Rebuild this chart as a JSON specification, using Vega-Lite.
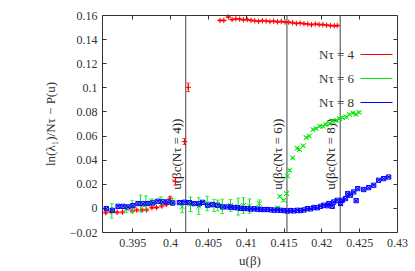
{
  "$schema": "https://vega.github.io/schema/vega-lite/v6.json",
  "width": 295,
  "height": 217,
  "autosize": {"type": "none"},
  "padding": {"left": 102, "top": 15, "right": 18, "bottom": 39},
  "background": "white",
  "config": {
    "font": "Liberation Serif",
    "view": {"stroke": "#333", "strokeWidth": 1},
    "text": {"font": "Liberation Serif"},
    "axis": {"domain": false, "grid": false, "labelFont": "Liberation Serif", "labelFontSize": 12, "labelColor": "#333", "tickColor": "#333", "tickSize": -4, "titleFont": "Liberation Serif", "titleFontWeight": "normal", "titleFontSize": 13, "titleColor": "#333"},
    "legend": {"labelFont": "Liberation Serif"}
  },
  "datasets": {
    "vlines": [
      {"u": 0.40207, "lab": "u(βc(Nτ = 4))"},
      {"u": 0.41545, "lab": "u(βc(Nτ = 6))"},
      {"u": 0.42249, "lab": "u(βc(Nτ = 8))"}
    ],
    "pts": [
      {"s": "Nτ = 4", "u": 0.3915, "y": -0.0040, "err": 0.0008},
      {"s": "Nτ = 4", "u": 0.3922, "y": -0.0032, "err": 0.0008},
      {"s": "Nτ = 4", "u": 0.3930, "y": -0.0036, "err": 0.0008},
      {"s": "Nτ = 4", "u": 0.3937, "y": -0.0035, "err": 0.0008},
      {"s": "Nτ = 4", "u": 0.3950, "y": -0.0025, "err": 0.0008},
      {"s": "Nτ = 4", "u": 0.3956, "y": -0.0018, "err": 0.0008},
      {"s": "Nτ = 4", "u": 0.3963, "y": -0.0018, "err": 0.0008},
      {"s": "Nτ = 4", "u": 0.3969, "y": -0.0017, "err": 0.0008},
      {"s": "Nτ = 4", "u": 0.3976, "y": 0.0002, "err": 0.0008},
      {"s": "Nτ = 4", "u": 0.3982, "y": 0.0003, "err": 0.0008},
      {"s": "Nτ = 4", "u": 0.3989, "y": 0.0015, "err": 0.0008},
      {"s": "Nτ = 4", "u": 0.3995, "y": 0.0028, "err": 0.0010},
      {"s": "Nτ = 4", "u": 0.4000, "y": 0.0080, "err": 0.0015},
      {"s": "Nτ = 4", "u": 0.4007, "y": 0.0220, "err": 0.0030},
      {"s": "Nτ = 4", "u": 0.4019, "y": 0.0550, "err": 0.0025},
      {"s": "Nτ = 4", "u": 0.4024, "y": 0.1000, "err": 0.0035},
      {"s": "Nτ = 4", "u": 0.4066, "y": 0.1555, "err": 0.0005},
      {"s": "Nτ = 4", "u": 0.4071, "y": 0.1555, "err": 0.0005},
      {"s": "Nτ = 4", "u": 0.4077, "y": 0.1583, "err": 0.0005},
      {"s": "Nτ = 4", "u": 0.4082, "y": 0.1562, "err": 0.0005},
      {"s": "Nτ = 4", "u": 0.4087, "y": 0.1568, "err": 0.0005},
      {"s": "Nτ = 4", "u": 0.4092, "y": 0.1566, "err": 0.0005},
      {"s": "Nτ = 4", "u": 0.4097, "y": 0.1560, "err": 0.0005},
      {"s": "Nτ = 4", "u": 0.4102, "y": 0.1562, "err": 0.0005},
      {"s": "Nτ = 4", "u": 0.4107, "y": 0.1556, "err": 0.0005},
      {"s": "Nτ = 4", "u": 0.4112, "y": 0.1552, "err": 0.0005},
      {"s": "Nτ = 4", "u": 0.4117, "y": 0.1548, "err": 0.0005},
      {"s": "Nτ = 4", "u": 0.4122, "y": 0.1553, "err": 0.0005},
      {"s": "Nτ = 4", "u": 0.4127, "y": 0.1550, "err": 0.0005},
      {"s": "Nτ = 4", "u": 0.4132, "y": 0.1546, "err": 0.0005},
      {"s": "Nτ = 4", "u": 0.4137, "y": 0.1549, "err": 0.0005},
      {"s": "Nτ = 4", "u": 0.4142, "y": 0.1543, "err": 0.0005},
      {"s": "Nτ = 4", "u": 0.4147, "y": 0.1546, "err": 0.0005},
      {"s": "Nτ = 4", "u": 0.4152, "y": 0.1541, "err": 0.0005},
      {"s": "Nτ = 4", "u": 0.4157, "y": 0.1540, "err": 0.0005},
      {"s": "Nτ = 4", "u": 0.4162, "y": 0.1536, "err": 0.0005},
      {"s": "Nτ = 4", "u": 0.4167, "y": 0.1530, "err": 0.0005},
      {"s": "Nτ = 4", "u": 0.4172, "y": 0.1533, "err": 0.0005},
      {"s": "Nτ = 4", "u": 0.4177, "y": 0.1528, "err": 0.0005},
      {"s": "Nτ = 4", "u": 0.4182, "y": 0.1525, "err": 0.0005},
      {"s": "Nτ = 4", "u": 0.4187, "y": 0.1519, "err": 0.0005},
      {"s": "Nτ = 4", "u": 0.4192, "y": 0.1525, "err": 0.0005},
      {"s": "Nτ = 4", "u": 0.4197, "y": 0.1521, "err": 0.0005},
      {"s": "Nτ = 4", "u": 0.4202, "y": 0.1520, "err": 0.0005},
      {"s": "Nτ = 4", "u": 0.4207, "y": 0.1516, "err": 0.0005},
      {"s": "Nτ = 4", "u": 0.4212, "y": 0.1512, "err": 0.0005},
      {"s": "Nτ = 4", "u": 0.4217, "y": 0.1510, "err": 0.0005},
      {"s": "Nτ = 4", "u": 0.4221, "y": 0.1512, "err": 0.0005},

      {"s": "Nτ = 6", "u": 0.3923, "y": -0.0025, "err": 0.0060},
      {"s": "Nτ = 6", "u": 0.3942, "y": -0.0008, "err": 0.0030},
      {"s": "Nτ = 6", "u": 0.3950, "y": 0.0010, "err": 0.0050},
      {"s": "Nτ = 6", "u": 0.3961, "y": 0.0036, "err": 0.0070},
      {"s": "Nτ = 6", "u": 0.3968, "y": 0.0040, "err": 0.0060},
      {"s": "Nτ = 6", "u": 0.3976, "y": 0.0050, "err": 0.0025},
      {"s": "Nτ = 6", "u": 0.3988, "y": 0.0056, "err": 0.0035},
      {"s": "Nτ = 6", "u": 0.4003, "y": 0.0050, "err": 0.0030},
      {"s": "Nτ = 6", "u": 0.4016, "y": 0.0010, "err": 0.0050},
      {"s": "Nτ = 6", "u": 0.4027, "y": 0.0030, "err": 0.0060},
      {"s": "Nτ = 6", "u": 0.4038, "y": 0.0015, "err": 0.0070},
      {"s": "Nτ = 6", "u": 0.4049, "y": 0.0036, "err": 0.0060},
      {"s": "Nτ = 6", "u": 0.4058, "y": 0.0020, "err": 0.0050},
      {"s": "Nτ = 6", "u": 0.4063, "y": 0.0020, "err": 0.0045},
      {"s": "Nτ = 6", "u": 0.4069, "y": 0.0012, "err": 0.0060},
      {"s": "Nτ = 6", "u": 0.4080, "y": 0.0020, "err": 0.0050},
      {"s": "Nτ = 6", "u": 0.4090, "y": 0.0010, "err": 0.0070},
      {"s": "Nτ = 6", "u": 0.4097, "y": 0.0020, "err": 0.0065},
      {"s": "Nτ = 6", "u": 0.4105, "y": 0.0015, "err": 0.0060},
      {"s": "Nτ = 6", "u": 0.4118, "y": 0.0036, "err": 0.0030},
      {"s": "Nτ = 6", "u": 0.4142, "y": 0.0000, "err": 0.0010},
      {"s": "Nτ = 6", "u": 0.4145, "y": 0.0096, "err": 0.0008},
      {"s": "Nτ = 6", "u": 0.4150, "y": 0.0063, "err": 0.0008},
      {"s": "Nτ = 6", "u": 0.4154, "y": 0.0119, "err": 0.0008},
      {"s": "Nτ = 6", "u": 0.4155, "y": 0.0265, "err": 0.0008},
      {"s": "Nτ = 6", "u": 0.4158, "y": 0.0312, "err": 0.0008},
      {"s": "Nτ = 6", "u": 0.4162, "y": 0.0415, "err": 0.0008},
      {"s": "Nτ = 6", "u": 0.4168, "y": 0.0495, "err": 0.0008},
      {"s": "Nτ = 6", "u": 0.4171, "y": 0.0484, "err": 0.0008},
      {"s": "Nτ = 6", "u": 0.4176, "y": 0.0515, "err": 0.0008},
      {"s": "Nτ = 6", "u": 0.4180, "y": 0.0583, "err": 0.0008},
      {"s": "Nτ = 6", "u": 0.4184, "y": 0.0596, "err": 0.0008},
      {"s": "Nτ = 6", "u": 0.4189, "y": 0.0649, "err": 0.0008},
      {"s": "Nτ = 6", "u": 0.4193, "y": 0.0658, "err": 0.0008},
      {"s": "Nτ = 6", "u": 0.4198, "y": 0.0677, "err": 0.0008},
      {"s": "Nτ = 6", "u": 0.4202, "y": 0.0677, "err": 0.0008},
      {"s": "Nτ = 6", "u": 0.4206, "y": 0.0693, "err": 0.0008},
      {"s": "Nτ = 6", "u": 0.4211, "y": 0.0699, "err": 0.0008},
      {"s": "Nτ = 6", "u": 0.4215, "y": 0.0721, "err": 0.0008},
      {"s": "Nτ = 6", "u": 0.4220, "y": 0.0727, "err": 0.0008},
      {"s": "Nτ = 6", "u": 0.4224, "y": 0.0741, "err": 0.0008},
      {"s": "Nτ = 6", "u": 0.4228, "y": 0.0749, "err": 0.0008},
      {"s": "Nτ = 6", "u": 0.4233, "y": 0.0754, "err": 0.0008},
      {"s": "Nτ = 6", "u": 0.4237, "y": 0.0776, "err": 0.0008},
      {"s": "Nτ = 6", "u": 0.4242, "y": 0.0787, "err": 0.0008},
      {"s": "Nτ = 6", "u": 0.4246, "y": 0.0776, "err": 0.0008},
      {"s": "Nτ = 6", "u": 0.4250, "y": 0.0793, "err": 0.0008},

      {"s": "Nτ = 8", "u": 0.39157, "y": -0.0006, "err": 0.0006},
      {"s": "Nτ = 8", "u": 0.39237, "y": -0.0020, "err": 0.0006},
      {"s": "Nτ = 8", "u": 0.39312, "y": 0.0013, "err": 0.0006},
      {"s": "Nτ = 8", "u": 0.39377, "y": 0.0013, "err": 0.0006},
      {"s": "Nτ = 8", "u": 0.39443, "y": 0.0008, "err": 0.0006},
      {"s": "Nτ = 8", "u": 0.39509, "y": 0.0019, "err": 0.0006},
      {"s": "Nτ = 8", "u": 0.39575, "y": 0.0036, "err": 0.0006},
      {"s": "Nτ = 8", "u": 0.39641, "y": 0.0034, "err": 0.0006},
      {"s": "Nτ = 8", "u": 0.39707, "y": 0.0036, "err": 0.0006},
      {"s": "Nτ = 8", "u": 0.39773, "y": 0.0041, "err": 0.0006},
      {"s": "Nτ = 8", "u": 0.39839, "y": 0.0055, "err": 0.0006},
      {"s": "Nτ = 8", "u": 0.39904, "y": 0.0050, "err": 0.0006},
      {"s": "Nτ = 8", "u": 0.39970, "y": 0.0050, "err": 0.0006},
      {"s": "Nτ = 8", "u": 0.40036, "y": 0.0041, "err": 0.0006},
      {"s": "Nτ = 8", "u": 0.40123, "y": 0.0044, "err": 0.0006},
      {"s": "Nτ = 8", "u": 0.40189, "y": 0.0047, "err": 0.0006},
      {"s": "Nτ = 8", "u": 0.40255, "y": 0.0044, "err": 0.0006},
      {"s": "Nτ = 8", "u": 0.40321, "y": 0.0036, "err": 0.0006},
      {"s": "Nτ = 8", "u": 0.40387, "y": 0.0034, "err": 0.0006},
      {"s": "Nτ = 8", "u": 0.40431, "y": 0.0046, "err": 0.0006},
      {"s": "Nτ = 8", "u": 0.40497, "y": 0.0022, "err": 0.0006},
      {"s": "Nτ = 8", "u": 0.40563, "y": 0.0028, "err": 0.0006},
      {"s": "Nτ = 8", "u": 0.40629, "y": 0.0022, "err": 0.0006},
      {"s": "Nτ = 8", "u": 0.40695, "y": 0.0008, "err": 0.0006},
      {"s": "Nτ = 8", "u": 0.40761, "y": 0.0008, "err": 0.0006},
      {"s": "Nτ = 8", "u": 0.40804, "y": 0.0006, "err": 0.0006},
      {"s": "Nτ = 8", "u": 0.40848, "y": 0.0003, "err": 0.0005},
      {"s": "Nτ = 8", "u": 0.40892, "y": 0.0001, "err": 0.0005},
      {"s": "Nτ = 8", "u": 0.40936, "y": -0.0004, "err": 0.0005},
      {"s": "Nτ = 8", "u": 0.40979, "y": -0.0005, "err": 0.0005},
      {"s": "Nτ = 8", "u": 0.41024, "y": -0.0006, "err": 0.0005},
      {"s": "Nτ = 8", "u": 0.41068, "y": -0.0010, "err": 0.0005},
      {"s": "Nτ = 8", "u": 0.41111, "y": -0.0007, "err": 0.0005},
      {"s": "Nτ = 8", "u": 0.41156, "y": -0.0011, "err": 0.0005},
      {"s": "Nτ = 8", "u": 0.41199, "y": -0.0013, "err": 0.0005},
      {"s": "Nτ = 8", "u": 0.41243, "y": -0.0014, "err": 0.0005},
      {"s": "Nτ = 8", "u": 0.41288, "y": -0.0013, "err": 0.0005},
      {"s": "Nτ = 8", "u": 0.41331, "y": -0.0016, "err": 0.0005},
      {"s": "Nτ = 8", "u": 0.41375, "y": -0.0019, "err": 0.0005},
      {"s": "Nτ = 8", "u": 0.41419, "y": -0.0018, "err": 0.0005},
      {"s": "Nτ = 8", "u": 0.41463, "y": -0.0020, "err": 0.0005},
      {"s": "Nτ = 8", "u": 0.41506, "y": -0.0022, "err": 0.0005},
      {"s": "Nτ = 8", "u": 0.41551, "y": -0.0026, "err": 0.0005},
      {"s": "Nτ = 8", "u": 0.41595, "y": -0.0022, "err": 0.0005},
      {"s": "Nτ = 8", "u": 0.41638, "y": -0.0025, "err": 0.0005},
      {"s": "Nτ = 8", "u": 0.41683, "y": -0.0020, "err": 0.0005},
      {"s": "Nτ = 8", "u": 0.41726, "y": -0.0022, "err": 0.0005},
      {"s": "Nτ = 8", "u": 0.41770, "y": -0.0017, "err": 0.0005},
      {"s": "Nτ = 8", "u": 0.41815, "y": -0.0006, "err": 0.0005},
      {"s": "Nτ = 8", "u": 0.41858, "y": -0.0008, "err": 0.0005},
      {"s": "Nτ = 8", "u": 0.41902, "y": 0.0003, "err": 0.0005},
      {"s": "Nτ = 8", "u": 0.41946, "y": 0.0001, "err": 0.0005},
      {"s": "Nτ = 8", "u": 0.41990, "y": 0.0013, "err": 0.0005},
      {"s": "Nτ = 8", "u": 0.42033, "y": 0.0022, "err": 0.0005},
      {"s": "Nτ = 8", "u": 0.42078, "y": 0.0018, "err": 0.0005},
      {"s": "Nτ = 8", "u": 0.42099, "y": 0.0036, "err": 0.0005},
      {"s": "Nτ = 8", "u": 0.42144, "y": 0.0013, "err": 0.0005},
      {"s": "Nτ = 8", "u": 0.42165, "y": 0.0049, "err": 0.0005},
      {"s": "Nτ = 8", "u": 0.42210, "y": 0.0063, "err": 0.0005},
      {"s": "Nτ = 8", "u": 0.42253, "y": 0.0036, "err": 0.0005},
      {"s": "Nτ = 8", "u": 0.42276, "y": 0.0063, "err": 0.0005},
      {"s": "Nτ = 8", "u": 0.42319, "y": 0.0077, "err": 0.0005},
      {"s": "Nτ = 8", "u": 0.42349, "y": 0.0119, "err": 0.0005},
      {"s": "Nτ = 8", "u": 0.42385, "y": 0.0105, "err": 0.0005},
      {"s": "Nτ = 8", "u": 0.42428, "y": 0.0132, "err": 0.0005},
      {"s": "Nτ = 8", "u": 0.42460, "y": 0.0060, "err": 0.0005},
      {"s": "Nτ = 8", "u": 0.42481, "y": 0.0160, "err": 0.0005},
      {"s": "Nτ = 8", "u": 0.42560, "y": 0.0152, "err": 0.0005},
      {"s": "Nτ = 8", "u": 0.42626, "y": 0.0168, "err": 0.0005},
      {"s": "Nτ = 8", "u": 0.42692, "y": 0.0188, "err": 0.0005},
      {"s": "Nτ = 8", "u": 0.42758, "y": 0.0229, "err": 0.0005},
      {"s": "Nτ = 8", "u": 0.42824, "y": 0.0243, "err": 0.0005},
      {"s": "Nτ = 8", "u": 0.42890, "y": 0.0256, "err": 0.0005}
    ]
  },
  "resolve": {"axis": {"x": "independent", "y": "independent"}},
  "layer": [
    {
      "data": {"name": "vlines"},
      "mark": {"type": "rule", "color": "#444", "strokeWidth": 1},
      "encoding": {
        "x": {"field": "u", "type": "quantitative", "scale": {"domain": [0.391, 0.43], "nice": false, "zero": false},
              "axis": {"orient": "top", "labels": false, "title": null, "values": [0.395, 0.4, 0.405, 0.41, 0.415, 0.42, 0.425]}},
        "y": {"datum": -0.02, "type": "quantitative", "scale": {"domain": [-0.02, 0.16], "nice": false, "zero": false},
              "axis": {"orient": "right", "labels": false, "title": null, "values": [0, 0.02, 0.04, 0.06, 0.08, 0.1, 0.12, 0.14]}},
        "y2": {"datum": 0.16}
      }
    },
    {
      "data": {"name": "vlines"},
      "mark": {"type": "text", "angle": 270, "align": "left", "baseline": "bottom", "dy": -2, "font": "Liberation Serif", "fontSize": 13, "color": "#222"},
      "encoding": {
        "x": {"field": "u", "type": "quantitative", "axis": null},
        "y": {"datum": 0.015, "type": "quantitative", "axis": null},
        "text": {"field": "lab"}
      }
    },
    {
      "data": {"name": "pts"},
      "transform": [{"filter": "datum.s === 'Nτ = 4'"}],
      "mark": {"type": "point", "shape": "M-1,0L1,0M0,-1L0,1", "filled": false, "strokeWidth": 1, "size": 30, "opacity": 1},
      "encoding": {
        "x": {"field": "u", "type": "quantitative", "axis": null},
        "y": {"field": "y", "type": "quantitative", "axis": null},
        "color": {"field": "s", "type": "nominal", "scale": {"domain": ["Nτ = 4", "Nτ = 6", "Nτ = 8"], "range": ["#ff0000", "#00e600", "#0000ff"]},
                  "legend": {"orient": "none", "legendX": 258, "legendY": 23, "title": null, "symbolType": "stroke", "symbolSize": 1024, "symbolStrokeWidth": 1, "labelAlign": "right", "labelOffset": -39, "labelFont": "Liberation Serif", "labelFontSize": 13, "labelColor": "#333", "rowPadding": -17}}
      }
    },
    {
      "data": {"name": "pts"},
      "mark": {"type": "errorbar", "ticks": {"size": 4}, "thickness": 1},
      "encoding": {
        "x": {"field": "u", "type": "quantitative", "title": "u(β)",
              "axis": {"orient": "bottom", "values": [0.395, 0.4, 0.405, 0.41, 0.415, 0.42, 0.425, 0.43], "format": ".3~f", "labelPadding": 9, "titlePadding": 6, "labelFlush": false}},
        "y": {"field": "y", "type": "quantitative", "title": "ln(λ₁)/Nτ − P(u)",
              "axis": {"orient": "left", "values": [-0.02, 0, 0.02, 0.04, 0.06, 0.08, 0.1, 0.12, 0.14, 0.16], "format": ".2~f", "labelPadding": 9, "titlePadding": 12, "labelFlush": false}},
        "yError": {"field": "err"},
        "color": {"field": "s", "type": "nominal"}
      }
    },
    {
      "data": {"name": "pts"},
      "transform": [{"filter": "datum.s === 'Nτ = 6'"}],
      "mark": {"type": "point", "shape": "M-1,-1L1,1M-1,1L1,-1", "filled": false, "strokeWidth": 1, "size": 25, "opacity": 1},
      "encoding": {
        "x": {"field": "u", "type": "quantitative", "axis": null},
        "y": {"field": "y", "type": "quantitative", "axis": null},
        "color": {"field": "s", "type": "nominal"}
      }
    },
    {
      "data": {"name": "pts"},
      "transform": [{"filter": "datum.s === 'Nτ = 8'"}],
      "mark": {"type": "point", "shape": "M-1,-1L1,-1L1,1L-1,1ZM-1,-1L1,1M-1,1L1,-1", "filled": false, "strokeWidth": 1, "size": 18, "opacity": 1},
      "encoding": {
        "x": {"field": "u", "type": "quantitative", "axis": null},
        "y": {"field": "y", "type": "quantitative", "axis": null},
        "color": {"field": "s", "type": "nominal"}
      }
    }
  ]
}
